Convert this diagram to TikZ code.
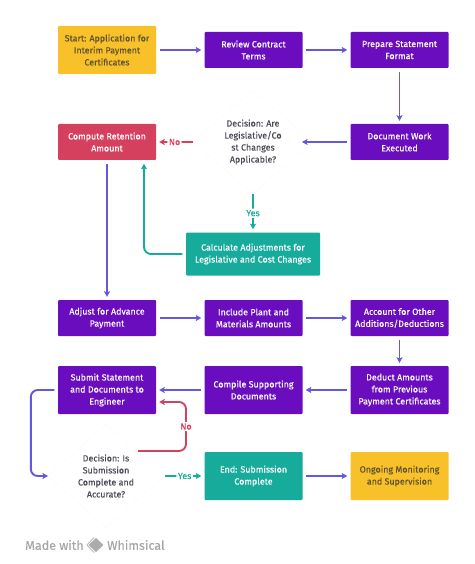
\documentclass[tikz,border=0pt]{standalone}
\usepackage{fontspec}
\setmainfont[FakeBold=0.25]{Fira Sans}
\usetikzlibrary{arrows.meta,calc}
\definecolor{purp}{HTML}{6A0DBE}
\definecolor{amber}{HTML}{F8C12A}
\definecolor{rosered}{HTML}{D6405F}
\definecolor{teal}{HTML}{17AB9B}
\definecolor{edgeblue}{HTML}{6457E0}
\definecolor{darktext}{HTML}{5E5330}
\definecolor{greytext}{HTML}{4A4A55}
\tikzset{
 x=1pt,y=-1pt,
 bx/.style={rounded corners=1pt,align=center,inner sep=0pt,font=\fontsize{8.9}{12}\selectfont,minimum width=98pt},
 pbox/.style={bx,fill=purp,text=white},
 ybox/.style={bx,fill=amber,text=darktext},
 rbox/.style={bx,fill=rosered,text=white},
 tbox/.style={bx,fill=teal,text=white},
 dectext/.style={align=center,inner sep=0pt,text=greytext,font=\fontsize{8.9}{12}\selectfont},
 conn/.style={line width=1.9pt,-{Stealth[length=5.5pt,width=6pt,inset=1pt]},rounded corners=7pt},
 blueconn/.style={conn,draw=edgeblue},
 redconn/.style={conn,draw=rosered},
 tealconn/.style={conn,draw=teal},
 redlab/.style={fill=white,text=rosered,inner sep=1.5pt,font=\fontsize{8.9}{10}\selectfont},
 teallab/.style={fill=white,text=teal,inner sep=1.5pt,font=\fontsize{8.9}{10}\selectfont},
 faint/.style={draw=gray!3,fill=white,line width=.5pt},
 foot/.style={text=gray!70,anchor=west,inner sep=0pt,font=\fontsize{12.5}{14}\selectfont},
}
\begin{document}
\begin{tikzpicture}
\useasboundingbox (0,0) rectangle (474,564);
% faint decision diamonds
\draw[faint] (253,90) -- (313,142) -- (253,194) -- (193,142) -- cycle;
\draw[faint] (106,424) -- (164,476) -- (106,528) -- (48,476) -- cycle;
% boxes
\node[ybox,minimum height=48pt] (start) at (107,50) {Start: Application for\\Interim Payment\\Certificates};
\node[pbox,minimum height=36pt] (review) at (253.5,50) {Review Contract\\Terms};
\node[pbox,minimum height=36pt] (prepare) at (399.5,50) {Prepare Statement\\Format};
\node[pbox,minimum height=36pt] (document) at (399.5,142) {Document Work\\Executed};
\node[dectext] (dec1) at (253,142) {Decision: Are\\Legislative/Co\\st Changes\\Applicable?};
\node[rbox,minimum height=36pt] (retention) at (107,142) {Compute Retention\\Amount};
\node[tbox,minimum height=43pt,minimum width=134pt] (calc) at (253,254) {Calculate Adjustments for\\Legislative and Cost Changes};
\node[pbox,minimum height=36pt] (advance) at (107,318) {Adjust for Advance\\Payment};
\node[pbox,minimum height=36pt] (plant) at (253.5,318) {Include Plant and\\Materials Amounts};
\node[pbox,minimum height=36pt] (other) at (399.5,318) {Account for Other\\Additions/Deductions};
\node[pbox,minimum height=48pt] (deduct) at (399.5,390) {Deduct Amounts\\from Previous\\Payment Certificates};
\node[pbox,minimum height=48pt] (compile) at (253.5,390) {Compile Supporting\\Documents};
\node[pbox,minimum height=48pt] (submit) at (107,390) {Submit Statement\\and Documents to\\Engineer};
\node[dectext] (dec2) at (106,476) {Decision: Is\\Submission\\Complete and\\Accurate?};
\node[tbox,minimum height=48pt] (end) at (253.5,476) {End: Submission\\Complete};
\node[ybox,minimum height=48pt] (ongoing) at (399.5,476) {Ongoing Monitoring\\and Supervision};
% connectors
\tikzset{gap/.style={shorten <=3.5pt,shorten >=3pt}}
\draw[blueconn,gap] (start.east) -- (review.west);
\draw[blueconn,gap] (review.east) -- (prepare.west);
\draw[blueconn,gap] (prepare.south) -- (document.north);
\draw[blueconn,shorten <=3.5pt] (document.west) -- ($(dec1.center)+(49,0)$);
\draw[redconn,shorten >=3pt] ($(dec1.center)+(-60,0)$) -- node[redlab] {No} (retention.east);
\draw[tealconn,shorten >=3pt] ($(dec1.center)+(0,52)$) -- node[teallab] {Yes} (calc.north);
\draw[tealconn,shorten <=3.5pt,shorten >=3.5pt] (calc.west) -| ([xshift=37pt]retention.south);
\draw[blueconn,gap] (retention.south) -- (advance.north);
\draw[blueconn,gap] (advance.east) -- (plant.west);
\draw[blueconn,gap] (plant.east) -- (other.west);
\draw[blueconn,gap] (other.south) -- (deduct.north);
\draw[blueconn,gap] (deduct.west) -- (compile.east);
\draw[blueconn,gap] (compile.west) -- (submit.east);
\draw[blueconn,shorten <=3.5pt] (submit.west) -- ++(-27,0) coordinate (sb) -- (sb |- dec2.west) -- ($(dec2.center)+(-58,0)$);
\draw[redconn,shorten >=3pt] ($(dec2.center)+(32,-25)$) coordinate (d2n) -- ++(48,0) coordinate (rc) -- node[redlab,pos=.5] {No} (rc |- 0,402) -- (submit.east |- 0,402);
\draw[tealconn,shorten >=3pt] ($(dec2.center)+(59,0)$) -- node[teallab] {Yes} (end.west);
\draw[blueconn,gap] (end.east) -- (ongoing.west);
% footer
\node[foot] (made) at (25,545) {Made with};
\node[foot] (whim) at (107,545) {Whimsical};
\fill[gray!65] (96,538) -- (103.5,545) -- (96,552) -- (88.5,545) -- cycle;
\draw[gray!50,line width=1pt] (94,537.5) -- (87,545) -- (94,552.5);
\end{tikzpicture}
\end{document}
